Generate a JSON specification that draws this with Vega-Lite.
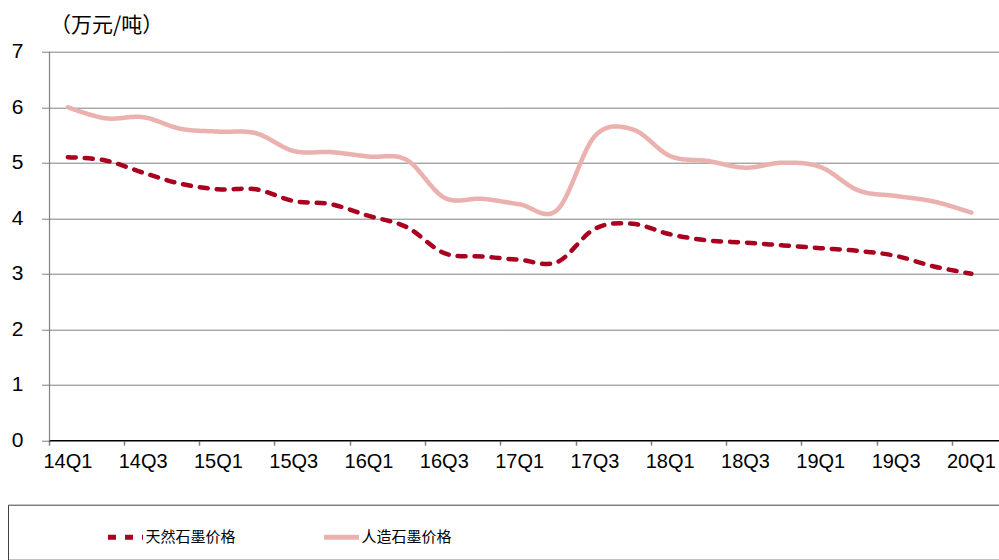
{
  "$schema": "https://vega.github.io/schema/vega-lite/v6.json",
  "width": 951,
  "height": 388.5,
  "autosize": {"type": "none"},
  "padding": {"left": 49, "top": 51.7, "right": 0, "bottom": 120},
  "background": "white",
  "title": {
    "text": "（万元/吨）",
    "anchor": "start",
    "frame": "group",
    "font": "Noto Sans CJK SC",
    "fontSize": 21,
    "fontWeight": "normal",
    "color": "#000000",
    "offset": 5,
    "dx": 1
  },
  "config": {"view": {"stroke": null}},
  "data": {
    "values": [
      {"q": "14Q1", "天然石墨价格": 5.10, "人造石墨价格": 6.00},
      {"q": "14Q2", "天然石墨价格": 5.04, "人造石墨价格": 5.80},
      {"q": "14Q3", "天然石墨价格": 4.82, "人造石墨价格": 5.82},
      {"q": "14Q4", "天然石墨价格": 4.62, "人造石墨价格": 5.61},
      {"q": "15Q1", "天然石墨价格": 4.52, "人造石墨价格": 5.56},
      {"q": "15Q2", "天然石墨价格": 4.52, "人造石墨价格": 5.53},
      {"q": "15Q3", "天然石墨价格": 4.31, "人造石墨价格": 5.21},
      {"q": "15Q4", "天然石墨价格": 4.25, "人造石墨价格": 5.19},
      {"q": "16Q1", "天然石墨价格": 4.04, "人造石墨价格": 5.11},
      {"q": "16Q2", "天然石墨价格": 3.84, "人造石墨价格": 5.05},
      {"q": "16Q3", "天然石墨价格": 3.37, "人造石墨价格": 4.37},
      {"q": "16Q4", "天然石墨价格": 3.31, "人造石墨价格": 4.35},
      {"q": "17Q1", "天然石墨价格": 3.25, "人造石墨价格": 4.25},
      {"q": "17Q2", "天然石墨价格": 3.21, "人造石墨价格": 4.15},
      {"q": "17Q3", "天然石墨价格": 3.81, "人造石墨价格": 5.48},
      {"q": "17Q4", "天然石墨价格": 3.90, "人造石墨价格": 5.60},
      {"q": "18Q1", "天然石墨价格": 3.71, "人造石墨价格": 5.12},
      {"q": "18Q2", "天然石墨价格": 3.60, "人造石墨价格": 5.03},
      {"q": "18Q3", "天然石墨价格": 3.56, "人造石墨价格": 4.91},
      {"q": "18Q4", "天然石墨价格": 3.51, "人造石墨价格": 5.00},
      {"q": "19Q1", "天然石墨价格": 3.46, "人造石墨价格": 4.92},
      {"q": "19Q2", "天然石墨价格": 3.41, "人造石墨价格": 4.50},
      {"q": "19Q3", "天然石墨价格": 3.32, "人造石墨价格": 4.40},
      {"q": "19Q4", "天然石墨价格": 3.13, "人造石墨价格": 4.30},
      {"q": "20Q1", "天然石墨价格": 3.00, "人造石墨价格": 4.10}
    ]
  },
  "transform": [
    {"fold": ["天然石墨价格", "人造石墨价格"], "as": ["series", "price"]}
  ],
  "mark": {
    "type": "line",
    "interpolate": "cardinal",
    "strokeWidth": 4.5,
    "strokeCap": "round"
  },
  "encoding": {
    "x": {
      "field": "q",
      "type": "ordinal",
      "sort": null,
      "scale": {"type": "band", "paddingInner": 0, "paddingOuter": 0.13, "align": 0},
      "axis": {
        "title": null,
        "values": ["14Q1", "14Q3", "15Q1", "15Q3", "16Q1", "16Q3", "17Q1", "17Q3", "18Q1", "18Q3", "19Q1", "19Q3", "20Q1"],
        "bandPosition": 0,
        "labelOffset": 0,
        "labelAngle": 0,
        "labelAlign": "center",
        "labelFont": "Liberation Sans",
        "labelFontSize": 20,
        "labelColor": "#000000",
        "labelPadding": 6,
        "tickSize": 5,
        "tickColor": "#808080",
        "tickWidth": 1.5,
        "domainColor": "#000000",
        "domainWidth": 1.2,
        "grid": false
      }
    },
    "y": {
      "field": "price",
      "type": "quantitative",
      "scale": {"domain": [0, 7], "nice": false, "zero": true},
      "axis": {
        "title": null,
        "values": [0, 1, 2, 3, 4, 5, 6, 7],
        "grid": true,
        "gridDash": [1, 1],
        "gridColor": "#000000",
        "gridWidth": 1,
        "tickColor": "#000000",
        "tickDash": [1, 1],
        "tickSize": 7,
        "labelFont": "Liberation Sans",
        "labelFontSize": 21,
        "labelColor": "#000000",
        "labelPadding": 19,
        "domainColor": "#808080",
        "domainWidth": 1.2
      }
    },
    "color": {
      "field": "series",
      "type": "nominal",
      "scale": {
        "domain": ["天然石墨价格", "人造石墨价格"],
        "range": ["#A8001E", "#EAB1AE"]
      },
      "legend": {
        "orient": "none",
        "legendX": -41,
        "legendY": 453,
        "direction": "horizontal",
        "title": " ",
        "titleOrient": "right",
        "titleFontSize": 1,
        "titlePadding": 600,
        "padding": 12.5,
        "strokeColor": "#404040",
        "symbolType": "stroke",
        "symbolSize": 1225,
        "symbolStrokeWidth": 5,
        "symbolOffset": 85,
        "labelFont": "Noto Sans CJK SC",
        "labelFontSize": 15,
        "labelColor": "#000000",
        "labelOffset": 0,
        "labelLimit": 300,
        "columnPadding": -7
      }
    },
    "strokeDash": {
      "field": "series",
      "type": "nominal",
      "scale": {
        "domain": ["天然石墨价格", "人造石墨价格"],
        "range": [[8, 9], [1, 0]]
      },
      "legend": null
    }
  }
}
